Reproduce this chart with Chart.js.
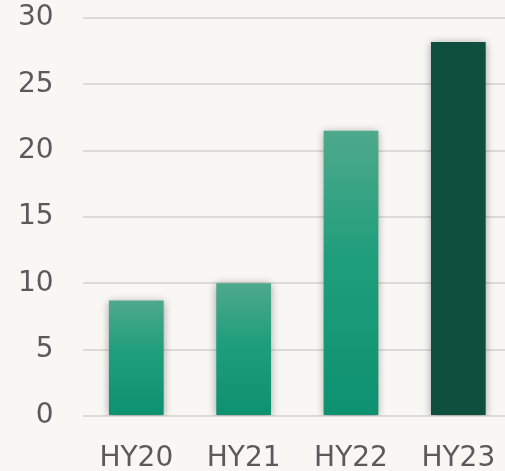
<!doctype html>
<html>
<head>
    <title>HY chart</title>
    <script src="https://cdn.jsdelivr.net/npm/chart.js"></script>
    <style>
        html, body { margin: 0; padding: 0; background: #f8f7f4; overflow: hidden; }
        #box { width: 512px; height: 471px; }
    </style>
</head>
<body>
    <div id="box"><canvas id="grafico" width="512" height="471"></canvas></div>
    <script>
        var categorias = ['HY20', 'HY21', 'HY22', 'HY23'];
        var valores = [8.7, 10.0, 21.5, 28.2];
        var ticksY = [0, 5, 10, 15, 20, 25, 30];

        // sombra atrás das barras
        var sombra = {
            id: 'sombra',
            beforeDatasetsDraw: function (chart) {
                var ctx = chart.ctx;
                ctx.save();
                ctx.shadowColor = 'rgba(0,0,0,0.35)';
                ctx.shadowBlur = 8;
                ctx.shadowOffsetX = 0;
                ctx.shadowOffsetY = 1;
            },
            afterDatasetsDraw: function (chart) {
                chart.ctx.restore();
            }
        };

        function corBarra(context) {
            var chart = context.chart;
            if (!chart.chartArea) return '#1a9a76';
            if (context.dataIndex == 3) return '#0e4f3e';
            var y = chart.scales.y;
            var topo = y.getPixelForValue(valores[context.dataIndex]);
            var base = y.getPixelForValue(0);
            var g = chart.ctx.createLinearGradient(0, topo, 0, base);
            g.addColorStop(0, '#4fa98c');
            g.addColorStop(0.45, '#1f9e7b');
            g.addColorStop(1, '#0d9170');
            return g;
        }

        // tira o espaço extra que o chart.js reserva nas pontas dos eixos
        function semPadding(axis) {
            axis.paddingTop = 0;
            axis.paddingBottom = 0;
            axis.paddingLeft = 0;
            axis.paddingRight = 0;
        }

        var fonte = { family: 'DejaVu Sans', size: 28 };

        var grafico = new Chart(document.getElementById('grafico').getContext('2d'), {
            type: 'bar',
            data: {
                labels: categorias,
                datasets: [{
                    data: valores,
                    backgroundColor: corBarra,
                    barPercentage: 0.51,
                    categoryPercentage: 1
                }]
            },
            options: {
                responsive: false,
                animation: false,
                devicePixelRatio: 1,
                layout: { padding: { top: 18, left: -11, right: 0, bottom: 0 } },
                plugins: { legend: { display: false }, tooltip: { enabled: false } },
                scales: {
                    x: {
                        afterFit: function (axis) {
                            semPadding(axis);
                            axis.height = 55; // altura fixa da faixa de rótulos
                        },
                        grid: { display: false },
                        border: { display: false },
                        ticks: {
                            color: '#5a5a5a',
                            font: fonte,
                            padding: 18
                        }
                    },
                    y: {
                        min: 0,
                        max: 30,
                        afterFit: semPadding,
                        afterBuildTicks: function (axis) {
                            axis.ticks = ticksY.map(function (v) { return { value: v }; });
                        },
                        grid: { color: '#dcdbd8', lineWidth: 2, drawTicks: false },
                        border: { display: false },
                        ticks: {
                            color: '#5a5a5a',
                            font: fonte,
                            padding: 29
                        }
                    }
                }
            },
            plugins: [sombra]
        });
    </script>
</body>
</html>
